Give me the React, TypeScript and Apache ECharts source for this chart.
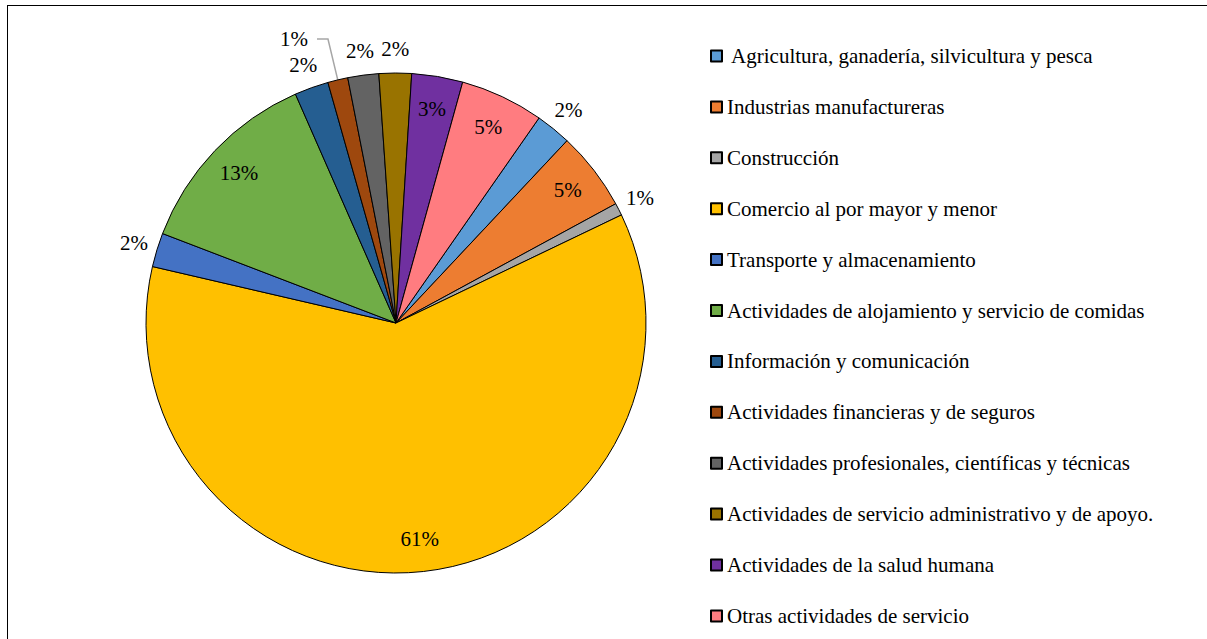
import React, { useEffect, useRef } from "react";
import * as echarts from "echarts";

const categories = [
  " Agricultura, ganadería, silvicultura y pesca",
  "Industrias manufactureras",
  "Construcción",
  "Comercio al por mayor y menor",
  "Transporte y almacenamiento",
  "Actividades de alojamiento y servicio de comidas",
  "Información y comunicación",
  "Actividades financieras y de seguros",
  "Actividades profesionales, científicas y técnicas",
  "Actividades de servicio administrativo y de apoyo.",
  "Actividades de la salud humana",
  "Otras actividades de servicio",
];

const shares = [2.3, 5.1, 0.8, 60.8, 2.2, 12.6, 2.2, 1.3, 2.0, 2.1, 3.3, 5.4];

const colors = [
  "#5B9BD5", "#ED7D31", "#A5A5A5", "#FFC000", "#4472C4", "#70AD47",
  "#255E91", "#9E480E", "#636363", "#997300", "#7030A0", "#FF7C80",
];

// which slices carry their label inside, outside, or with a leader line
const insideLabelled = [1, 3, 5, 10, 11];
const leaderLabelled = [7];

const FONT = "Liberation Serif";

export default function App() {
  const ref = useRef<HTMLDivElement>(null);
  useEffect(() => {
    if (!ref.current) return;
    document.documentElement.style.overflow = "hidden";
    document.body.style.overflow = "hidden";
    document.body.style.margin = "0";
    const chart = echarts.init(ref.current, undefined, { renderer: "svg" });
    const fmt = (p: any) => Math.round(p.percent) + "%";
    const labelBase = {
      color: "#000",
      fontFamily: FONT,
      fontSize: 21,
      formatter: fmt,
    };
    const center = [396, 323];
    const startAngle = 55.1;

    const mainData = categories.map((name, i) => ({
      name,
      value: shares[i],
      itemStyle: { color: colors[i] },
      label: leaderLabelled.includes(i)
        ? { show: true, position: "outside" }
        : { show: false },
      labelLine: leaderLabelled.includes(i) ? { show: true } : { show: false },
    }));

    const innerData = categories.map((name, i) => ({
      name,
      value: shares[i],
      label: { show: insideLabelled.includes(i) },
    }));

    const outerData = categories.map((name, i) => ({
      name,
      value: shares[i],
      label: {
        show: !insideLabelled.includes(i) && !leaderLabelled.includes(i),
      },
    }));

    chart.setOption({
      animation: false,
      legend: {
        orient: "vertical",
        left: 710,
        top: 45.5,
        padding: 0,
        itemGap: 29.9,
        itemWidth: 11,
        itemHeight: 11,
        icon: "rect",
        data: categories,
        selectedMode: false,
        textStyle: {
          fontFamily: FONT,
          fontSize: 21,
          lineHeight: 21,
          color: "#000",
        },
      },
      series: [
        {
          type: "pie",
          center,
          radius: [0, 250],
          startAngle,
          clockwise: true,
          avoidLabelOverlap: false,
          silent: true,
          itemStyle: { borderColor: "#000", borderWidth: 1 },
          label: { ...labelBase, distanceToLabelLine: 9 },
          labelLine: {
            length: 42,
            length2: 11,
            lineStyle: { color: "#A6A6A6", width: 1.5 },
          },
          emphasis: { disabled: true },
          data: mainData,
        },
        {
          type: "pie",
          center,
          radius: [178, 250],
          startAngle,
          clockwise: true,
          avoidLabelOverlap: false,
          silent: true,
          itemStyle: { color: "transparent", borderWidth: 0 },
          label: { ...labelBase, position: "inside" },
          labelLine: { show: false },
          emphasis: { disabled: true },
          data: innerData,
        },
        {
          type: "pie",
          center,
          radius: [250, 292],
          startAngle,
          clockwise: true,
          avoidLabelOverlap: false,
          silent: true,
          itemStyle: { color: "transparent", borderWidth: 0 },
          label: { ...labelBase, position: "inside" },
          labelLine: { show: false },
          emphasis: { disabled: true },
          data: outerData,
        },
      ],
    });
    return () => chart.dispose();
  }, []);
  return (
    <div
      style={{
        position: "absolute",
        left: 0,
        top: 0,
        width: 1207,
        height: 639,
        overflow: "hidden",
        background: "#fff",
      }}
    >
      <div
        style={{
          position: "absolute",
          left: 6.6,
          top: 4.6,
          width: 1300,
          height: 700,
          borderTop: "1.8px solid #000",
          borderLeft: "1.8px solid #000",
          boxSizing: "border-box",
        }}
      />
      <div
        ref={ref}
        style={{ position: "absolute", left: 0, top: 0, width: 1207, height: 639 }}
      />
    </div>
  );
}
